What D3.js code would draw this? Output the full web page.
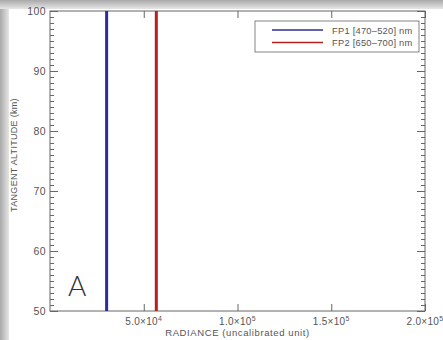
<!DOCTYPE html>
<html>
<head>
<meta charset="utf-8">
<script src="https://cdn.jsdelivr.net/npm/d3@7"></script>
<style>
  body { margin: 0; background: #fff; }
  svg { display: block; font-family: "Liberation Sans", Arial, sans-serif; }
</style>
</head>
<body>
<div id="chart"></div>
<script>
// data
const series = ['FP1 [470\u2013520] nm', 'FP2 [650\u2013700] nm'];
const seriesColors = ['#2b2b9c', '#b5201e'];
const radiance = [30200, 56700];          // constant radiance per filter
const altitudes = [50, 100];              // km, lines span the whole range
const xTicks = [50000, 100000, 150000, 200000];
const xTickMantissa = ['5.0', '1.0', '1.5', '2.0'];
const xTickExp = ['4', '5', '5', '5'];
const yTicks = [50, 60, 70, 80, 90, 100];

const W = 443, H = 340;
const margin = { top: 11, right: 18, bottom: 29, left: 50 };
const width = W - margin.left - margin.right,
      height = H - margin.top - margin.bottom;

const svg = d3.select('#chart').append('svg')
  .attr('width', W).attr('height', H);

// photo-like shadow frame
const defs = svg.append('defs');
const gl = defs.append('linearGradient').attr('id', 'shL').attr('x1', 0).attr('x2', 1).attr('y1', 0).attr('y2', 0);
gl.append('stop').attr('offset', 0).attr('stop-color', '#a9a9a9');
gl.append('stop').attr('offset', 1).attr('stop-color', '#e6e6e6');
const gt = defs.append('linearGradient').attr('id', 'shT').attr('x1', 0).attr('x2', 0).attr('y1', 0).attr('y2', 1);
gt.append('stop').attr('offset', 0).attr('stop-color', '#a9a9a9');
gt.append('stop').attr('offset', 1).attr('stop-color', '#e6e6e6');
svg.append('rect').attr('width', W).attr('height', H).attr('fill', '#fff');
svg.append('rect').attr('x', 0).attr('y', 0).attr('width', 9).attr('height', H).attr('fill', 'url(#shL)');
svg.append('rect').attr('x', 0).attr('y', 0).attr('width', W).attr('height', 9).attr('fill', 'url(#shT)');

const g = svg.append('g').attr('transform', `translate(${margin.left},${margin.top})`);

const x = d3.scaleLinear().domain([0, 200000]).range([0, width]);
const y = d3.scaleLinear().domain([50, 100]).range([height, 0]);

const axisColor = '#666', textColor = '#555';

// frame of the plot
g.append('rect').attr('width', width).attr('height', height)
  .attr('fill', 'none').attr('stroke', axisColor).attr('stroke-width', 1);

function styleAxis(sel) {
  sel.select('.domain').remove();
  sel.selectAll('line').attr('stroke', axisColor);
  sel.selectAll('text').attr('fill', textColor).attr('font-size', 10.5).attr('letter-spacing', 0.4);
}

// left axis: minor every km, major every 10
g.append('g').call(d3.axisRight(y).tickValues(d3.range(50, 101, 1)).tickSize(4).tickFormat(''))
  .call(styleAxis);
g.append('g').call(d3.axisRight(y).tickValues(yTicks).tickSize(8).tickFormat(''))
  .call(styleAxis);
g.append('g').call(d3.axisLeft(y).tickValues(yTicks).tickSize(0).tickPadding(4))
  .call(styleAxis);

// right axis
g.append('g').attr('transform', `translate(${width},0)`)
  .call(d3.axisLeft(y).tickValues(d3.range(50, 101, 1)).tickSize(4).tickFormat(''))
  .call(styleAxis);
g.append('g').attr('transform', `translate(${width},0)`)
  .call(d3.axisLeft(y).tickValues(yTicks).tickSize(8).tickFormat(''))
  .call(styleAxis);

// bottom / top axes
g.append('g').attr('transform', `translate(0,${height})`)
  .call(d3.axisTop(x).tickValues(xTicks).tickSize(7).tickFormat(''))
  .call(styleAxis);
g.append('g')
  .call(d3.axisBottom(x).tickValues(xTicks).tickSize(7).tickFormat(''))
  .call(styleAxis);

const xl = g.append('g').selectAll('text').data(xTicks).join('text')
  .attr('x', d => x(d)).attr('y', height + 14)
  .attr('text-anchor', 'middle').attr('fill', textColor).attr('font-size', 10)
  .attr('letter-spacing', 0.3);
xl.append('tspan').text((d, i) => xTickMantissa[i] + '\u00d710');
xl.append('tspan').attr('dy', -4).attr('font-size', 7).text((d, i) => xTickExp[i]);

// axis titles
svg.append('text').attr('x', margin.left + x(100000)).attr('y', 336)
  .attr('text-anchor', 'middle').attr('fill', textColor).attr('font-size', 9.5)
  .attr('letter-spacing', 0.6)
  .text('RADIANCE (uncalibrated unit)');
svg.append('text').attr('transform', `translate(17,${margin.top + y(76)}) rotate(-90)`)
  .attr('text-anchor', 'middle').attr('fill', textColor).attr('font-size', 9)
  .attr('letter-spacing', 0.3)
  .text('TANGENT ALTITUDE (km)');

// vertical radiance lines
series.forEach((s, i) => {
  g.append('path')
    .datum(altitudes.map(a => ({ r: radiance[i], a })))
    .attr('fill', 'none').attr('stroke', seriesColors[i]).attr('stroke-width', 3)
    .attr('d', d3.line().x(d => x(d.r)).y(d => y(d.a)));
});

// panel label
g.append('text').attr('x', 18).attr('y', y(52.5))
  .attr('fill', '#333').attr('font-size', 28).attr('font-weight', 300)
  .attr('font-family', 'Lato, "Liberation Sans", sans-serif').text('A');

// legend
const lg = svg.append('g').attr('transform', 'translate(255,21)');
lg.append('rect').attr('width', 164).attr('height', 31)
  .attr('fill', '#fff').attr('stroke', axisColor).attr('stroke-width', 0.8);
series.forEach((s, i) => {
  const yy = 9 + i * 12.5;
  lg.append('line').attr('x1', 17).attr('x2', 68).attr('y1', yy).attr('y2', yy)
    .attr('stroke', seriesColors[i]).attr('stroke-width', 1.5);
  lg.append('text').attr('x', 77).attr('y', yy + 3.5)
    .attr('fill', textColor).attr('font-size', 9.3).attr('letter-spacing', 0.25).text(s);
});
</script>
</body>
</html>
